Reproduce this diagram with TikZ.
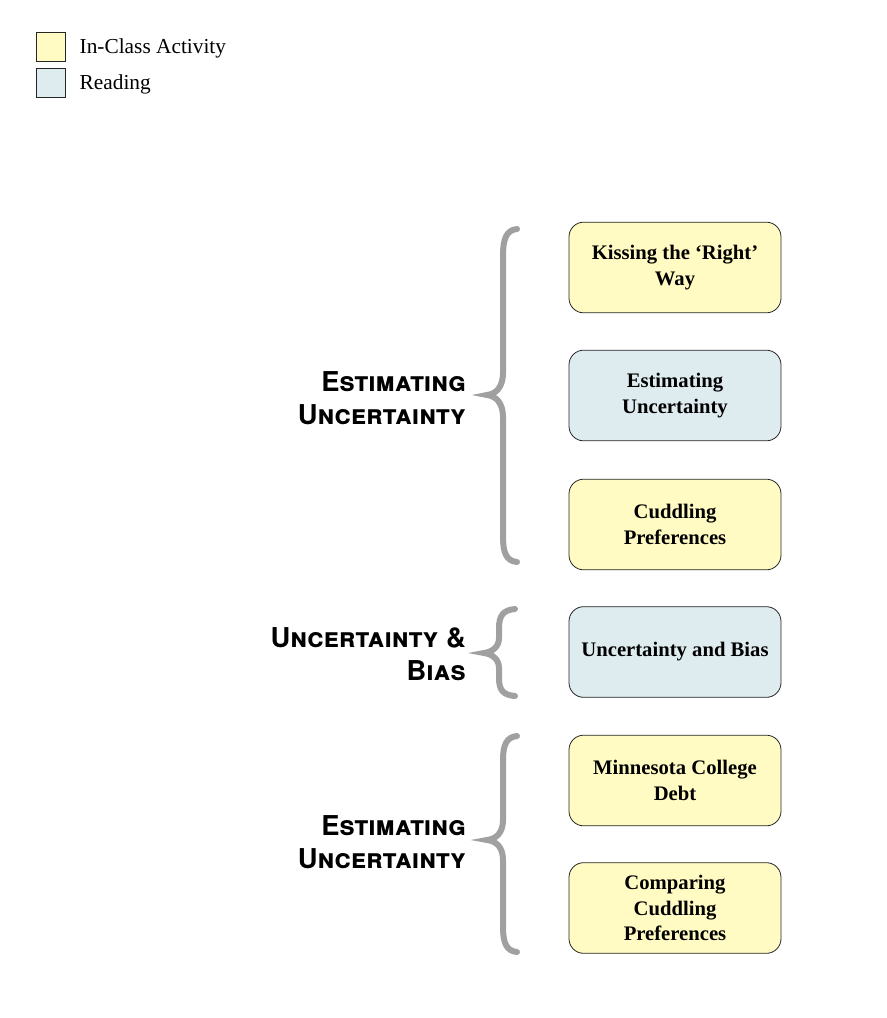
\documentclass[tikz,border=0pt]{standalone}
\usepackage{fontspec}
\setmainfont{Liberation Serif}
\newfontfamily\topicfont{TeX Gyre Heros}
\definecolor{actyellow}{HTML}{FFFBC2}
\definecolor{readblue}{HTML}{DEEBEF}
\definecolor{bracegray}{HTML}{A0A0A0}

\begin{document}
\begin{tikzpicture}[x=0.75pt, y=-0.75pt,
    box/.style={draw=black!85, line width=0.6pt, rounded corners=11pt, minimum width=159pt, minimum height=68pt, align=center, font=\fontsize{15.5}{19}\selectfont\bfseries},
    activity/.style={box, fill=actyellow},
    reading/.style={box, fill=readblue},
    topic/.style={anchor=east, inner sep=0pt, align=right, font=\fontsize{20.5}{25}\selectfont\topicfont\bfseries\scshape},
    curly/.style={draw=bracegray, line width=4.5pt, line cap=round}]
    \useasboundingbox (0,0) rectangle (886,1018);
    % legend
    \node[draw=black!85, fill=actyellow, minimum width=22pt, minimum height=22pt] (k1) at (51,46.5) {};
    \node[draw=black!85, fill=readblue, minimum width=22pt, minimum height=22pt] (k2) at (51,82.5) {};
    \node[anchor=west, font=\fontsize{16}{18}\selectfont] (t1) at (75,48.5) {In-Class Activity};
    \node[anchor=west, font=\fontsize{16}{18}\selectfont] (t2) at (75,84) {Reading};
    % boxes
    \node[activity] (b1) at (675,267.5) {Kissing the ‘Right’\\ Way};
    \node[reading] (b2) at (675,395.5) {Estimating\\ Uncertainty};
    \node[activity] (b3) at (675,524.5) {Cuddling\\ Preferences};
    \node[reading] (b4) at (675,652) {Uncertainty and Bias};
    \node[activity] (b5) at (675,780.5) {Minnesota College\\ Debt};
    \node[activity] (b6) at (675,908) {Comparing\\ Cuddling\\ Preferences};
    % topics
    \node[topic] (g1) at (466,398) {Estimating\\ Uncertainty};
    \node[topic] (g2) at (466,654) {Uncertainty \&\\ Bias};
    \node[topic] (g3) at (466,842) {Estimating\\ Uncertainty};
    % braces
    \draw[curly] (517,229) .. controls (506,230) and (503,240) .. (503,255) -- (503,373)
        .. controls (503,387) and (496,394) .. (487,395) .. controls (496,396) and (503,403) .. (503,417)
        -- (503,537) .. controls (503,552) and (506,561) .. (517,562);
    \draw[curly] (515,609) .. controls (503,610) and (499,616) .. (499,628) -- (499,638)
        .. controls (499,647) and (492,652) .. (484,653) .. controls (492,654) and (499,659) .. (499,668)
        -- (499,678) .. controls (499,690) and (503,695) .. (515,696);
    \draw[curly] (517,736) .. controls (506,737) and (503,746) .. (503,760) -- (503,820)
        .. controls (503,833) and (496,839) .. (487,840) .. controls (496,841) and (503,847) .. (503,860)
        -- (503,927) .. controls (503,942) and (506,951) .. (517,952);
\end{tikzpicture}
\end{document}
